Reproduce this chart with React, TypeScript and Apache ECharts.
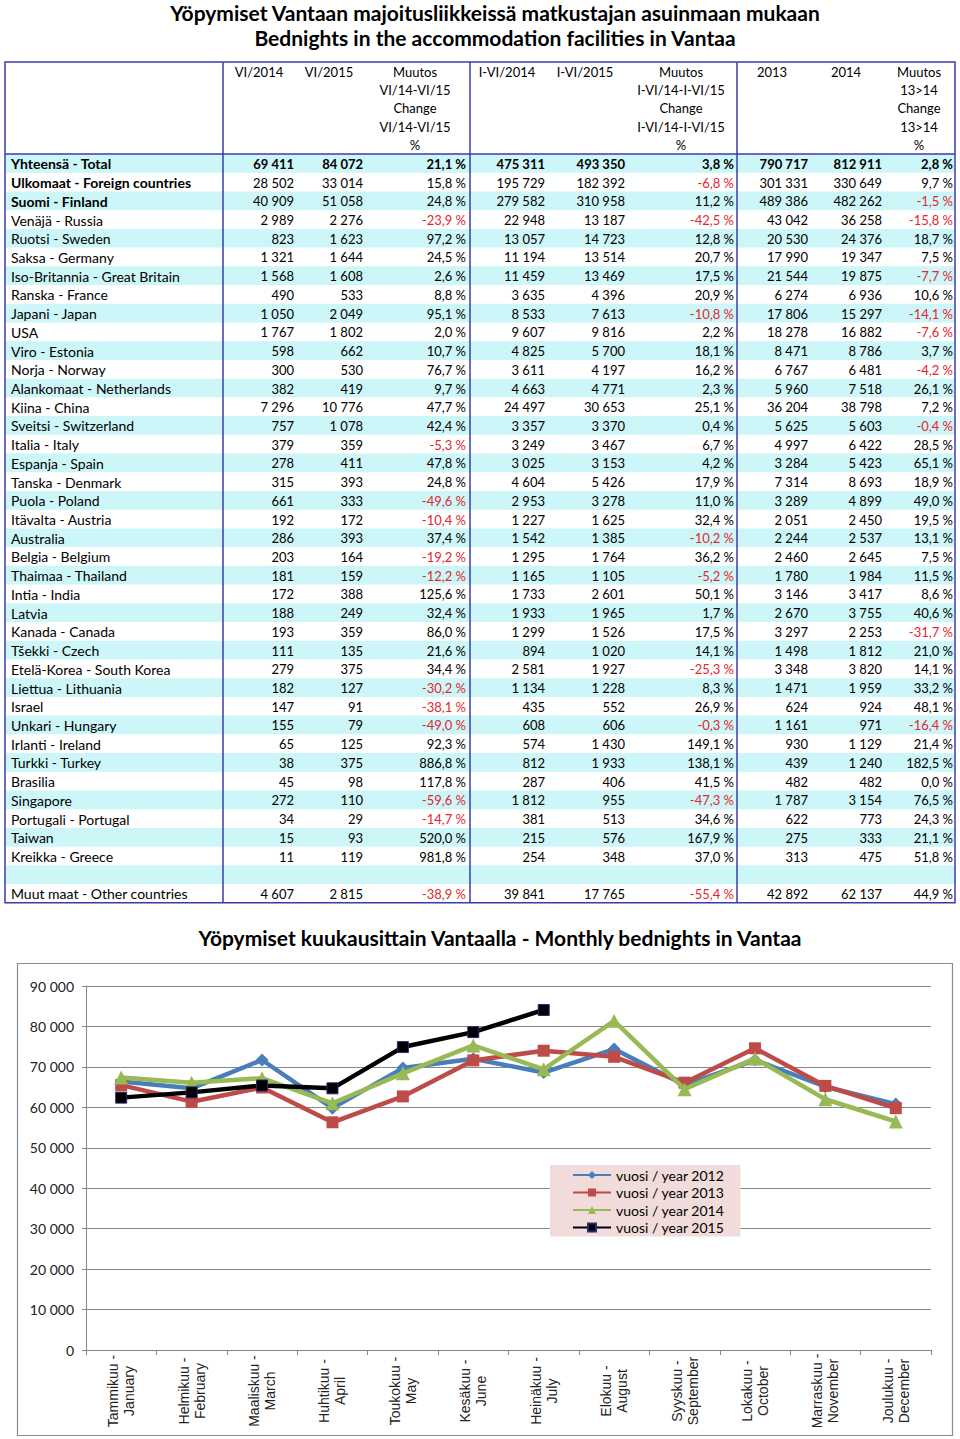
import React, { useEffect, useRef } from "react";
import * as echarts from "echarts";

// ---------- Table data ----------
const rowLabels = [
  "Yhteensä - Total", "Ulkomaat - Foreign countries", "Suomi - Finland", "Venäjä - Russia",
  "Ruotsi - Sweden", "Saksa - Germany", "Iso-Britannia - Great Britain", "Ranska - France",
  "Japani - Japan", "USA", "Viro - Estonia", "Norja - Norway", "Alankomaat - Netherlands",
  "Kiina - China", "Sveitsi - Switzerland", "Italia - Italy", "Espanja - Spain",
  "Tanska - Denmark", "Puola - Poland", "Itävalta - Austria", "Australia", "Belgia - Belgium",
  "Thaimaa - Thailand", "Intia - India", "Latvia", "Kanada - Canada", "Tšekki - Czech",
  "Etelä-Korea - South Korea", "Liettua - Lithuania", "Israel", "Unkari - Hungary",
  "Irlanti - Ireland", "Turkki - Turkey", "Brasilia", "Singapore", "Portugali - Portugal",
  "Taiwan", "Kreikka - Greece", "Muut maat - Other countries",
];
const jun2014 = [69411, 28502, 40909, 2989, 823, 1321, 1568, 490, 1050, 1767, 598, 300, 382, 7296, 757, 379, 278, 315, 661, 192, 286, 203, 181, 172, 188, 193, 111, 279, 182, 147, 155, 65, 38, 45, 272, 34, 15, 11, 4607];
const jun2015 = [84072, 33014, 51058, 2276, 1623, 1644, 1608, 533, 2049, 1802, 662, 530, 419, 10776, 1078, 359, 411, 393, 333, 172, 393, 164, 159, 388, 249, 359, 135, 375, 127, 91, 79, 125, 375, 98, 110, 29, 93, 119, 2815];
const junChange = [21.1, 15.8, 24.8, -23.9, 97.2, 24.5, 2.6, 8.8, 95.1, 2.0, 10.7, 76.7, 9.7, 47.7, 42.4, -5.3, 47.8, 24.8, -49.6, -10.4, 37.4, -19.2, -12.2, 125.6, 32.4, 86.0, 21.6, 34.4, -30.2, -38.1, -49.0, 92.3, 886.8, 117.8, -59.6, -14.7, 520.0, 981.8, -38.9];
const h1_2014 = [475311, 195729, 279582, 22948, 13057, 11194, 11459, 3635, 8533, 9607, 4825, 3611, 4663, 24497, 3357, 3249, 3025, 4604, 2953, 1227, 1542, 1295, 1165, 1733, 1933, 1299, 894, 2581, 1134, 435, 608, 574, 812, 287, 1812, 381, 215, 254, 39841];
const h1_2015 = [493350, 182392, 310958, 13187, 14723, 13514, 13469, 4396, 7613, 9816, 5700, 4197, 4771, 30653, 3370, 3467, 3153, 5426, 3278, 1625, 1385, 1764, 1105, 2601, 1965, 1526, 1020, 1927, 1228, 552, 606, 1430, 1933, 406, 955, 513, 576, 348, 17765];
const h1Change = [3.8, -6.8, 11.2, -42.5, 12.8, 20.7, 17.5, 20.9, -10.8, 2.2, 18.1, 16.2, 2.3, 25.1, 0.4, 6.7, 4.2, 17.9, 11.0, 32.4, -10.2, 36.2, -5.2, 50.1, 1.7, 17.5, 14.1, -25.3, 8.3, 26.9, -0.3, 149.1, 138.1, 41.5, -47.3, 34.6, 167.9, 37.0, -55.4];
const year2013 = [790717, 301331, 489386, 43042, 20530, 17990, 21544, 6274, 17806, 18278, 8471, 6767, 5960, 36204, 5625, 4997, 3284, 7314, 3289, 2051, 2244, 2460, 1780, 3146, 2670, 3297, 1498, 3348, 1471, 624, 1161, 930, 439, 482, 1787, 622, 275, 313, 42892];
const year2014 = [812911, 330649, 482262, 36258, 24376, 19347, 19875, 6936, 15297, 16882, 8786, 6481, 7518, 38798, 5603, 6422, 5423, 8693, 4899, 2450, 2537, 2645, 1984, 3417, 3755, 2253, 1812, 3820, 1959, 924, 971, 1129, 1240, 482, 3154, 773, 333, 475, 62137];
const yearChange = [2.8, 9.7, -1.5, -15.8, 18.7, 7.5, -7.7, 10.6, -14.1, -7.6, 3.7, -4.2, 26.1, 7.2, -0.4, 28.5, 65.1, 18.9, 49.0, 19.5, 13.1, 7.5, 11.5, 8.6, 40.6, -31.7, 21.0, 14.1, 33.2, 48.1, -16.4, 21.4, 182.5, 0.0, 76.5, 24.3, 21.1, 51.8, 44.9];

const headerCol1 = ["VI/2014"];
const headerCol2 = ["VI/2015"];
const headerCol3 = ["Muutos", "VI/14-VI/15", "Change", "VI/14-VI/15", "%"];
const headerCol4 = ["I-VI/2014"];
const headerCol5 = ["I-VI/2015"];
const headerCol6 = ["Muutos", "I-VI/14-I-VI/15", "Change", "I-VI/14-I-VI/15", "%"];
const headerCol7 = ["2013"];
const headerCol8 = ["2014"];
const headerCol9 = ["Muutos", "13>14", "Change", "13>14", "%"];

// ---------- Line chart data ----------
const months = [
  "Tammikuu -\nJanuary", "Helmikuu -\nFebruary", "Maaliskuu -\nMarch", "Huhtikuu -\nApril",
  "Toukokuu -\nMay", "Kesäkuu -\nJune", "Heinäkuu -\nJuly", "Elokuu -\nAugust",
  "Syyskuu -\nSeptember", "Lokakuu -\nOctober", "Marraskuu -\nNovember", "Joulukuu -\nDecember",
];
const y2012 = [66400, 64700, 71700, 59800, 69700, 72000, 68600, 74400, 65500, 71700, 65100, 60800];
const y2013 = [65500, 61400, 64900, 56300, 62700, 71600, 74000, 72500, 66100, 74600, 65300, 59800];
const y2014 = [67400, 66100, 67200, 61000, 68400, 75300, 69411, 81400, 64500, 72100, 62000, 56500];
const y2015 = [62400, 63700, 65400, 64700, 74900, 78600, 84072];
const yTicks = [0, 10000, 20000, 30000, 40000, 50000, 60000, 70000, 80000, 90000];

const seriesNames = ["vuosi / year 2012", "vuosi / year 2013", "vuosi / year 2014", "vuosi / year 2015"];

const FONT = "Lato, 'Open Sans', sans-serif";

function fmtInt(n: number): string {
  return String(n).replace(/\B(?=(\d{3})+(?!\d))/g, " ");
}
function fmtPct(n: number): string {
  return n.toFixed(1).replace(".", ",") + " %";
}

function buildTable(): any[] {
  const els: any[] = [];
  const left = 5, right = 955, top = 62, headBottom = 154;
  const rowH = 18.72;
  const nRows = 40;
  const bottom = headBottom + nRows * rowH;
  const cyan = "#cdf6f8";
  const border = "#3b3bab";
  const red = "#e3262f";

  // Titles
  els.push({
    type: "text", x: 495, y: 12, silent: true,
    style: { text: "Yöpymiset Vantaan majoitusliikkeissä matkustajan asuinmaan mukaan", fill: "#000", fontFamily: FONT, fontSize: 21, fontWeight: "bold", textAlign: "center", textVerticalAlign: "middle" },
  });
  els.push({
    type: "text", x: 495, y: 37, silent: true,
    style: { text: "Bednights in the accommodation facilities in Vantaa", fill: "#000", fontFamily: FONT, fontSize: 21, fontWeight: "bold", textAlign: "center", textVerticalAlign: "middle" },
  });

  // Row backgrounds
  for (let i = 0; i < nRows; i++) {
    if (i % 2 === 0) {
      els.push({ type: "rect", silent: true, shape: { x: left + 1, y: headBottom + i * rowH, width: right - left - 2, height: rowH }, style: { fill: cyan } });
    }
  }

  // Headers
  const headers = [headerCol1, headerCol2, headerCol3, headerCol4, headerCol5, headerCol6, headerCol7, headerCol8, headerCol9];
  const headerCenters = [259, 329, 415, 507, 585, 681, 772, 846, 919];
  const headerYs = [72, 90, 108.3, 126.6, 144.5];
  headers.forEach((lines, c) => {
    lines.forEach((t, li) => {
      els.push({
        type: "text", x: headerCenters[c], y: headerYs[li], silent: true,
        style: { text: t, fill: "#000", fontFamily: FONT, fontSize: 13, textAlign: "center", textVerticalAlign: "middle" },
      });
    });
  });

  // Body
  const colRights = [294, 363, 466, 545, 625, 734, 808, 882, 953];
  rowLabels.forEach((label, k) => {
    const rowIdx = k < 38 ? k : 39;
    const cy = headBottom + rowIdx * rowH + rowH / 2 + 0.5;
    const labelBold = k <= 2;
    const numBold = k === 0;
    els.push({
      type: "text", x: 11, y: cy, silent: true,
      style: { text: label, fill: "#000", fontFamily: FONT, fontSize: 14, fontWeight: labelBold ? "bold" : "normal", textAlign: "left", textVerticalAlign: "middle" },
    });
    const vals: [string, boolean][] = [
      [fmtInt(jun2014[k]), false], [fmtInt(jun2015[k]), false], [fmtPct(junChange[k]), junChange[k] < 0],
      [fmtInt(h1_2014[k]), false], [fmtInt(h1_2015[k]), false], [fmtPct(h1Change[k]), h1Change[k] < 0],
      [fmtInt(year2013[k]), false], [fmtInt(year2014[k]), false], [fmtPct(yearChange[k]), yearChange[k] < 0],
    ];
    vals.forEach(([t, neg], c) => {
      els.push({
        type: "text", x: colRights[c], y: cy, silent: true,
        style: { text: t, fill: neg ? red : "#000", fontFamily: FONT, fontSize: 13, fontWeight: numBold ? "bold" : "normal", textAlign: "right", textVerticalAlign: "middle" },
      });
    });
  });

  // Borders
  els.push({ type: "rect", silent: true, shape: { x: left, y: top, width: right - left, height: bottom - top }, style: { fill: "none", stroke: border, lineWidth: 1.5 } });
  els.push({ type: "line", silent: true, shape: { x1: left, y1: headBottom, x2: right, y2: headBottom }, style: { stroke: border, lineWidth: 1.5 } });
  [223, 470, 737].forEach((x) => {
    els.push({ type: "line", silent: true, shape: { x1: x, y1: top, x2: x, y2: bottom }, style: { stroke: border, lineWidth: 1.5 } });
  });

  // Chart title and frame
  els.push({
    type: "text", x: 500, y: 937, silent: true,
    style: { text: "Yöpymiset kuukausittain Vantaalla - Monthly bednights in Vantaa", fill: "#000", fontFamily: FONT, fontSize: 21, fontWeight: "bold", textAlign: "center", textVerticalAlign: "middle" },
  });
  els.push({ type: "rect", silent: true, shape: { x: 17.5, y: 963.5, width: 935, height: 472 }, style: { fill: "none", stroke: "#8c8c8c", lineWidth: 1.2 } });
  return els;
}

export default function App() {
  const ref = useRef<HTMLDivElement>(null);
  useEffect(() => {
    if (!ref.current) return;
    const chart = echarts.init(ref.current, null, { renderer: "svg" });
    const colors = ["#4a7ebb", "#be4b48", "#98b954", "#000000"];
    const symbols = ["diamond", "rect", "triangle", "rect"];
    const sizes = [13, 12, 14, 11];
    const datas = [y2012, y2013, y2014, y2015];
    chart.setOption({
      animation: false,
      backgroundColor: "#fff",
      color: colors,
      graphic: { elements: buildTable() },
      grid: { left: 86, right: 29, top: 986, bottom: 89, outerBoundsMode: "none" },
      legend: {
        orient: "vertical",
        left: 550,
        top: 1165,
        backgroundColor: "#f2dcdb",
        padding: [3, 16, 2, 22],
        itemWidth: 38,
        itemHeight: 10,
        itemGap: 3.5,
        textStyle: { fontFamily: FONT, fontSize: 14, color: "#000" },
        data: seriesNames,
      },
      xAxis: {
        type: "category",
        data: months,
        boundaryGap: true,
        axisLine: { lineStyle: { color: "#868686" } },
        axisTick: { show: true, length: 5, lineStyle: { color: "#868686" } },
        axisLabel: {
          interval: 0,
          rotate: 90,
          align: "center",
          verticalAlign: "middle",
          margin: 41,
          fontFamily: "'Liberation Sans', Arial, sans-serif",
          fontSize: 14,
          lineHeight: 16,
          color: "#222",
        },
      },
      yAxis: {
        type: "value",
        min: yTicks[0],
        max: yTicks[yTicks.length - 1],
        interval: yTicks[1] - yTicks[0],
        axisLine: { show: true, lineStyle: { color: "#868686" } },
        axisTick: { show: true, length: 4, lineStyle: { color: "#868686" } },
        splitLine: { lineStyle: { color: "#878787", width: 1 } },
        axisLabel: {
          margin: 12,
          fontFamily: FONT,
          fontSize: 14,
          color: "#222",
          formatter: (v: number) => fmtInt(v),
        },
      },
      series: datas.map((d, i) => ({
        name: seriesNames[i],
        type: "line",
        data: d,
        symbol: symbols[i],
        symbolSize: sizes[i],
        lineStyle: { width: 4.5, color: colors[i] },
        itemStyle: i === 3 ? { color: "#000", borderColor: "#2a2a70", borderWidth: 1 } : { color: colors[i] },
        z: 3 + i,
      })),
    });
    return () => chart.dispose();
  }, []);
  return <div ref={ref} style={{ position: "absolute", left: 0, top: 0, width: 960, height: 1439 }} />;
}
